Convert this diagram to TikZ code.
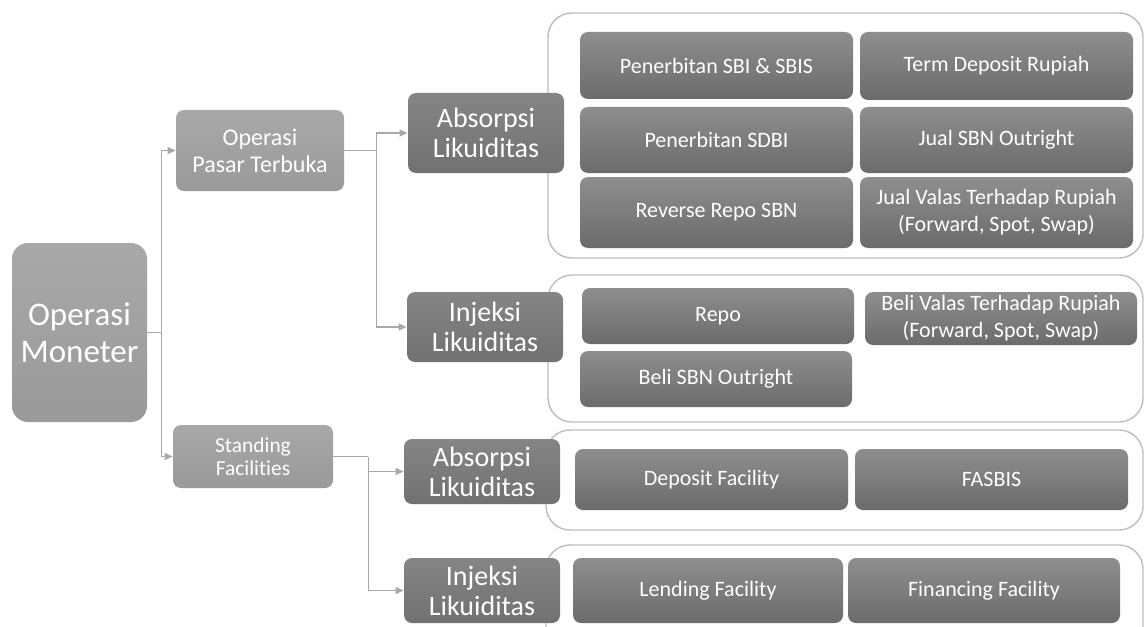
\documentclass[tikz,border=0pt]{standalone}
\usepackage{fontspec}
\setmainfont{Carlito}[Ligatures=NoCommon]
\usetikzlibrary{arrows.meta}
\definecolor{framegray}{HTML}{BDBDBD}
\definecolor{linegray}{HTML}{A9A9A9}
\definecolor{lighttop}{HTML}{A8A8A8}
\definecolor{lightbot}{HTML}{9A9A9A}
\definecolor{midtop}{HTML}{858585}
\definecolor{midbot}{HTML}{717171}
\definecolor{itemtop}{HTML}{8E8E8E}
\definecolor{itembot}{HTML}{6B6B6B}
\tikzset{
  box/.style={rounded corners=4pt, text=white, align=center, inner sep=0pt},
  rootbox/.style={box, rounded corners=8pt, top color=lighttop, bottom color=lightbot,
    minimum width=67.5pt, minimum height=89.5pt, font=\fontsize{16.5}{18.5}\selectfont},
  branchbox/.style={box, top color=lighttop, bottom color=lightbot, minimum width=84pt},
  levelbox/.style={box, top color=midtop, bottom color=midbot,
    minimum width=78pt, font=\fontsize{14}{15}\selectfont},
  itembox/.style={box, top color=itemtop, bottom color=itembot,
    minimum width=136.5pt, font=\fontsize{11}{13.5}\selectfont},
  frame/.style={draw=framegray, line width=.7pt, rounded corners=12pt},
  conn/.style={draw=linegray, line width=.6pt},
  arr/.style={conn, -{Triangle[length=4pt, width=3.5pt]}}
}
\begin{document}
\begin{tikzpicture}[x=.5pt, y=-.5pt]
  \useasboundingbox (0,0) rectangle (1144,626);
  \clip (0,0) rectangle (1144,626);
  \fill[white] (0,0) rectangle (1144,626);

  % frames round each group
  \draw[frame] (548,13) rectangle (1143,258);
  \draw[frame] (548,275) rectangle (1143,422);
  \draw[frame] (546,430) rectangle (1143,530);
  \draw[frame] (546,545) rectangle (1143,660);

  % left side
  \node[rootbox] (om) at (79.5,332.5) {Operasi\\Moneter};
  \node[branchbox, minimum height=40.5pt, font=\fontsize{12}{13.5}\selectfont] (opt) at (260,150.5) {Operasi\\Pasar Terbuka};
  \node[branchbox, minimum width=80pt, minimum height=31.5pt, font=\fontsize{10.7}{11.5}\selectfont] (sf) at (253,456.5) {Standing\\Facilities};

  \node[levelbox, minimum height=40pt] (abs1) at (486,133) {Absorpsi\\Likuiditas};
  \node[levelbox, minimum height=35pt] (inj1) at (485,327) {Injeksi\\Likuiditas};
  \node[levelbox, minimum height=32.5pt] (abs2) at (482,471.5) {Absorpsi\\Likuiditas};
  \node[levelbox, minimum height=32.5pt] (inj2) at (482,590.5) {Injeksi\\Likuiditas};

  % absorpsi, operasi pasar terbuka
  \node[itembox, minimum height=33.5pt] (sbi) at (716.5,65.5) {Penerbitan SBI \& SBIS};
  \node[itembox, minimum height=34pt] (tdr) at (996.5,66) {Term Deposit Rupiah};
  \node[itembox, minimum height=33pt] (sdbi) at (716.5,140) {Penerbitan SDBI};
  \node[itembox, minimum height=33pt] (jsbn) at (996.5,140) {Jual SBN Outright};
  \node[itembox, minimum height=35.5pt] (rrepo) at (716.5,212.5) {Reverse Repo SBN};
  \node[itembox, minimum height=35.5pt] (jvalas) at (996.5,212.5) {Jual Valas Terhadap Rupiah\\(Forward, Spot, Swap)};

  % injeksi, operasi pasar terbuka
  \node[itembox, minimum width=136pt, minimum height=28pt] (repo) at (718,316) {Repo};
  \node[itembox, minimum width=136pt, minimum height=28pt] (bsbn) at (716,379) {Beli SBN Outright};
  \node[itembox, minimum width=136pt, minimum height=26.5pt] (bvalas) at (1001,318.5) {Beli Valas Terhadap Rupiah\\(Forward, Spot, Swap)};

  % standing facilities
  \node[itembox, minimum height=30.5pt] (depo) at (711.5,479.5) {Deposit Facility};
  \node[itembox, minimum height=30.5pt] (fasbis) at (991.5,479.5) {FASBIS};
  \node[itembox, minimum width=135pt, minimum height=32.5pt] (lend) at (708,590.5) {Lending Facility};
  \node[itembox, minimum width=136pt, minimum height=32.5pt] (fin) at (984,590.5) {Financing Facility};

  % connectors
  \draw[conn] (om.east) -- ++(14,0) coordinate (j1);
  \draw[arr] (j1) |- (opt.west);
  \draw[arr] (j1) |- (sf.west);
  \draw[conn] (opt.east) -- ++(32,0) coordinate (j2);
  \draw[arr] (j2) |- (abs1.west);
  \draw[arr] (j2) |- (inj1.west);
  \draw[conn] (sf.east) -- ++(35,0) coordinate (j3);
  \draw[arr] (j3) |- (abs2.west);
  \draw[arr] (j3) |- (inj2.west);
\end{tikzpicture}
\end{document}
